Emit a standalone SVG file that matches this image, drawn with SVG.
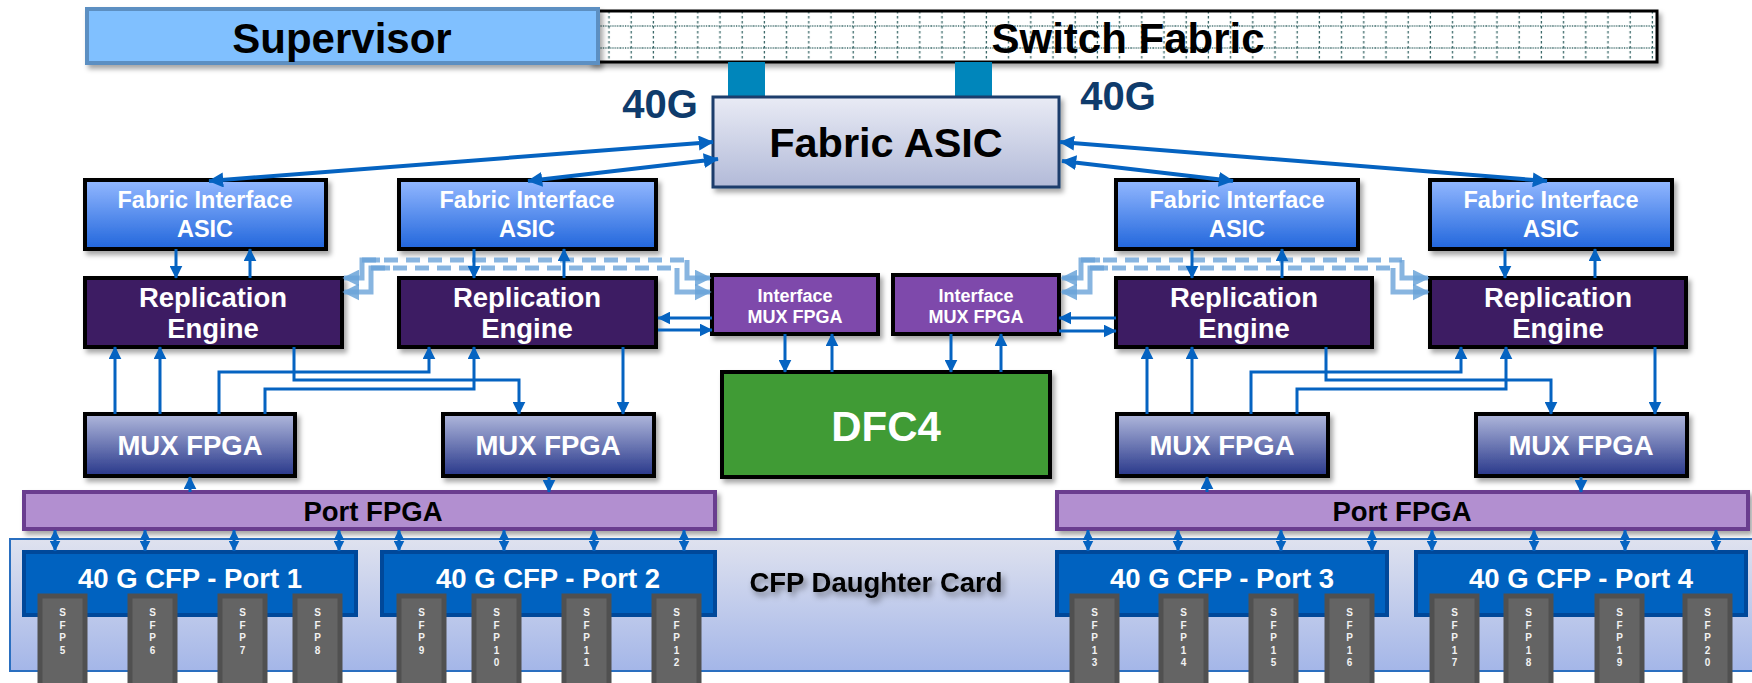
<svg xmlns="http://www.w3.org/2000/svg" width="1752" height="683" viewBox="0 0 1752 683">
<defs>
  <linearGradient id="gFia" x1="0" y1="0" x2="0" y2="1"><stop offset="0" stop-color="#93b8ff"/><stop offset="1" stop-color="#2166dc"/></linearGradient>
  <linearGradient id="gMux" x1="0" y1="0" x2="0" y2="1"><stop offset="0" stop-color="#b0b8dc"/><stop offset="1" stop-color="#28378a"/></linearGradient>
  <linearGradient id="gAsic" x1="0" y1="0" x2="0" y2="1"><stop offset="0" stop-color="#e9ebf5"/><stop offset="1" stop-color="#b2bad8"/></linearGradient>
  <linearGradient id="gCard" x1="0" y1="0" x2="0" y2="1"><stop offset="0" stop-color="#dfe2ef"/><stop offset="1" stop-color="#a4b6e8"/></linearGradient>
  <pattern id="grid" patternUnits="userSpaceOnUse" x="598" y="11" width="22.2" height="60">
    <rect width="22.2" height="60" fill="#fff"/>
    <line x1="11" y1="0" x2="11" y2="60" stroke="#3c6a6a" stroke-width="1.3" stroke-dasharray="2.5 2.5"/>
    <line x1="0" y1="15" x2="22.2" y2="15" stroke="#3c6a6a" stroke-width="1.3" stroke-dasharray="1.2 1.2"/>
    <line x1="0" y1="37" x2="22.2" y2="37" stroke="#3c6a6a" stroke-width="1.3" stroke-dasharray="1.2 1.2"/>
  </pattern>
  <marker id="aL" viewBox="0 0 10 10" refX="9.5" refY="5" markerWidth="15" markerHeight="15" markerUnits="userSpaceOnUse" orient="auto-start-reverse"><path d="M0,0 L10,5 L0,10 z" fill="#0563c1"/></marker>
  <marker id="aM" viewBox="0 0 10 10" refX="9.5" refY="5" markerWidth="13" markerHeight="13" markerUnits="userSpaceOnUse" orient="auto-start-reverse"><path d="M0,0 L10,5 L0,10 z" fill="#0563c1"/></marker>
  <marker id="aS" viewBox="0 0 10 10" refX="9.5" refY="5" markerWidth="11" markerHeight="11" markerUnits="userSpaceOnUse" orient="auto-start-reverse"><path d="M0,0 L10,5 L0,10 z" fill="#0563c1"/></marker>
  <marker id="aD" viewBox="0 0 10 10" refX="9" refY="5" markerWidth="17" markerHeight="17" markerUnits="userSpaceOnUse" orient="auto-start-reverse"><path d="M0,0 L10,5 L0,10 z" fill="#6aa3d8" fill-opacity="0.85"/></marker>
  <filter id="sh" x="-5%" y="-10%" width="115%" height="140%"><feDropShadow dx="3" dy="4" stdDeviation="2.5" flood-color="#000" flood-opacity="0.35"/></filter>
  <filter id="tsh" x="-10%" y="-30%" width="130%" height="180%"><feDropShadow dx="3" dy="4" stdDeviation="3" flood-color="#000" flood-opacity="0.45"/></filter>
</defs>
<style>
  text{font-family:"Liberation Sans",Arial,sans-serif;font-weight:bold;text-anchor:middle}
  .w{fill:#fff}
  .k{fill:#000}
  .bx{stroke:#000;stroke-width:4}
  .fia{fill:url(#gFia)}
  .re{fill:#3d1f63}
  .mux{fill:url(#gMux)}
  .im{fill:#7e4aab}
  .pf{fill:#b28fd0;stroke:#6a3d8f;stroke-width:4}
  .cfp{fill:#0062c0;stroke:#00489a;stroke-width:4}
  .sfp{fill:#646464;stroke:#505050;stroke-width:5}
  .sfpt{font-size:10px;fill:#f2f2f2}
  .t24{font-size:23.5px}
  .t27{font-size:27.5px}
  .cL{fill:none;stroke:#0563c1;stroke-width:4;marker-start:url(#aL);marker-end:url(#aL)}
  .cM{fill:none;stroke:#0563c1;stroke-width:3;marker-end:url(#aM)}
  .cT{fill:none;stroke:#0563c1;stroke-width:3;marker-end:url(#aM)}
  .cS{fill:none;stroke:#0563c1;stroke-width:3;marker-start:url(#aS);marker-end:url(#aS)}
  .dS{fill:none;stroke:#6aa3d8;stroke-opacity:0.8;stroke-width:5}
  .dD{fill:none;stroke:#6aa3d8;stroke-opacity:0.8;stroke-width:5;stroke-dasharray:14 8}
</style>
<rect width="1752" height="683" fill="#fff"/>

<g id="cfp-daughter-card">
  <rect x="10" y="539" width="1760" height="132" fill="url(#gCard)" stroke="#2a6fc0" stroke-width="2"/>
  <text x="876" y="592" class="t27 k" filter="url(#tsh)">CFP Daughter Card</text>
</g>

<g id="switch-fabric">
  <rect x="590" y="11" width="1067" height="51" fill="url(#grid)" stroke="#000" stroke-width="3" filter="url(#sh)"/>
  <text x="1128" y="53" font-size="42" class="k">Switch Fabric</text>
</g>
<g id="supervisor">
  <rect x="87" y="9" width="511" height="54" fill="#80c0ff" stroke="#5b8fc2" stroke-width="4" filter="url(#sh)"/>
  <text x="342" y="53" font-size="42" class="k">Supervisor</text>
</g>

<g id="fabric-links">
  <rect x="728" y="62" width="37" height="35" fill="#0086bb"/>
  <rect x="955" y="62" width="37" height="35" fill="#0086bb"/>
  <text x="660" y="118" font-size="40" fill="#0f3b6b">40G</text>
  <text x="1118" y="110" font-size="40" fill="#0f3b6b">40G</text>
</g>

<g id="fabric-asic">
  <rect x="713" y="97" width="346" height="90" fill="url(#gAsic)" stroke="#1c3d6c" stroke-width="3" filter="url(#sh)"/>
  <text x="886" y="157" font-size="41.5" class="k">Fabric ASIC</text>
</g>

<g id="fia-1"><rect x="85" y="180" width="241" height="69" class="bx fia" filter="url(#sh)"/><text x="205" y="208" class="t24 w">Fabric Interface</text><text x="205" y="237" class="t24 w">ASIC</text></g>
<g id="fia-2"><rect x="399" y="180" width="257" height="69" class="bx fia" filter="url(#sh)"/><text x="527" y="208" class="t24 w">Fabric Interface</text><text x="527" y="237" class="t24 w">ASIC</text></g>
<g id="fia-3"><rect x="1116" y="180" width="242" height="69" class="bx fia" filter="url(#sh)"/><text x="1237" y="208" class="t24 w">Fabric Interface</text><text x="1237" y="237" class="t24 w">ASIC</text></g>
<g id="fia-4"><rect x="1430" y="180" width="242" height="69" class="bx fia" filter="url(#sh)"/><text x="1551" y="208" class="t24 w">Fabric Interface</text><text x="1551" y="237" class="t24 w">ASIC</text></g>

<g id="re-1"><rect x="85" y="278" width="257" height="69" class="bx re" filter="url(#sh)"/><text x="213" y="307" class="t27 w">Replication</text><text x="213" y="338" class="t27 w">Engine</text></g>
<g id="re-2"><rect x="399" y="278" width="257" height="69" class="bx re" filter="url(#sh)"/><text x="527" y="307" class="t27 w">Replication</text><text x="527" y="338" class="t27 w">Engine</text></g>
<g id="re-3"><rect x="1116" y="278" width="256" height="69" class="bx re" filter="url(#sh)"/><text x="1244" y="307" class="t27 w">Replication</text><text x="1244" y="338" class="t27 w">Engine</text></g>
<g id="re-4"><rect x="1430" y="278" width="256" height="69" class="bx re" filter="url(#sh)"/><text x="1558" y="307" class="t27 w">Replication</text><text x="1558" y="338" class="t27 w">Engine</text></g>

<g id="imux-1"><rect x="712" y="275" width="166" height="59" class="bx im" filter="url(#sh)"/><text x="795" y="302" font-size="18" class="w">Interface</text><text x="795" y="323" font-size="18" class="w">MUX FPGA</text></g>
<g id="imux-2"><rect x="893" y="275" width="166" height="59" class="bx im" filter="url(#sh)"/><text x="976" y="302" font-size="18" class="w">Interface</text><text x="976" y="323" font-size="18" class="w">MUX FPGA</text></g>

<g id="dfc4"><rect x="722" y="372" width="328" height="105" class="bx" fill="#3f9b36" filter="url(#sh)"/><text x="886" y="441" font-size="42" class="w">DFC4</text></g>

<g id="mux-1"><rect x="85" y="414" width="210" height="62" class="bx mux" filter="url(#sh)"/><text x="190" y="455" class="t27 w">MUX FPGA</text></g>
<g id="mux-2"><rect x="443" y="414" width="211" height="62" class="bx mux" filter="url(#sh)"/><text x="548" y="455" class="t27 w">MUX FPGA</text></g>
<g id="mux-3"><rect x="1117" y="414" width="211" height="62" class="bx mux" filter="url(#sh)"/><text x="1222" y="455" class="t27 w">MUX FPGA</text></g>
<g id="mux-4"><rect x="1476" y="414" width="211" height="62" class="bx mux" filter="url(#sh)"/><text x="1581" y="455" class="t27 w">MUX FPGA</text></g>

<g id="port-fpga-1"><rect x="24" y="492" width="691" height="37" class="pf" filter="url(#sh)"/><text x="373" y="521" class="t27 k">Port FPGA</text></g>
<g id="port-fpga-2"><rect x="1057" y="492" width="691" height="37" class="pf" filter="url(#sh)"/><text x="1402" y="521" class="t27 k">Port FPGA</text></g>

<g id="cfp-1"><rect x="24" y="552" width="332" height="63" class="cfp"/><text x="190" y="588" class="t27 w">40 G CFP - Port 1</text></g>
<g id="cfp-2"><rect x="382" y="552" width="333" height="63" class="cfp"/><text x="548" y="588" class="t27 w">40 G CFP - Port 2</text></g>
<g id="cfp-3"><rect x="1057" y="552" width="330" height="63" class="cfp"/><text x="1222" y="588" class="t27 w">40 G CFP - Port 3</text></g>
<g id="cfp-4"><rect x="1416" y="552" width="330" height="63" class="cfp"/><text x="1581" y="588" class="t27 w">40 G CFP - Port 4</text></g>

<g id="sfp-modules">
  <g id="sfp-5"><rect x="40" y="596" width="45" height="100" class="sfp"/><text class="sfpt"><tspan x="62.5" y="616">S</tspan><tspan x="62.5" y="628.5">F</tspan><tspan x="62.5" y="641">P</tspan><tspan x="62.5" y="653.5">5</tspan></text></g>
  <g id="sfp-6"><rect x="130" y="596" width="45" height="100" class="sfp"/><text class="sfpt"><tspan x="152.5" y="616">S</tspan><tspan x="152.5" y="628.5">F</tspan><tspan x="152.5" y="641">P</tspan><tspan x="152.5" y="653.5">6</tspan></text></g>
  <g id="sfp-7"><rect x="220" y="596" width="45" height="100" class="sfp"/><text class="sfpt"><tspan x="242.5" y="616">S</tspan><tspan x="242.5" y="628.5">F</tspan><tspan x="242.5" y="641">P</tspan><tspan x="242.5" y="653.5">7</tspan></text></g>
  <g id="sfp-8"><rect x="295" y="596" width="45" height="100" class="sfp"/><text class="sfpt"><tspan x="317.5" y="616">S</tspan><tspan x="317.5" y="628.5">F</tspan><tspan x="317.5" y="641">P</tspan><tspan x="317.5" y="653.5">8</tspan></text></g>
  <g id="sfp-9"><rect x="399" y="596" width="45" height="100" class="sfp"/><text class="sfpt"><tspan x="421.5" y="616">S</tspan><tspan x="421.5" y="628.5">F</tspan><tspan x="421.5" y="641">P</tspan><tspan x="421.5" y="653.5">9</tspan></text></g>
  <g id="sfp-10"><rect x="474" y="596" width="45" height="100" class="sfp"/><text class="sfpt"><tspan x="496.5" y="616">S</tspan><tspan x="496.5" y="628.5">F</tspan><tspan x="496.5" y="641">P</tspan><tspan x="496.5" y="653.5">1</tspan><tspan x="496.5" y="666">0</tspan></text></g>
  <g id="sfp-11"><rect x="564" y="596" width="45" height="100" class="sfp"/><text class="sfpt"><tspan x="586.5" y="616">S</tspan><tspan x="586.5" y="628.5">F</tspan><tspan x="586.5" y="641">P</tspan><tspan x="586.5" y="653.5">1</tspan><tspan x="586.5" y="666">1</tspan></text></g>
  <g id="sfp-12"><rect x="654" y="596" width="45" height="100" class="sfp"/><text class="sfpt"><tspan x="676.5" y="616">S</tspan><tspan x="676.5" y="628.5">F</tspan><tspan x="676.5" y="641">P</tspan><tspan x="676.5" y="653.5">1</tspan><tspan x="676.5" y="666">2</tspan></text></g>
  <g id="sfp-13"><rect x="1072" y="596" width="45" height="100" class="sfp"/><text class="sfpt"><tspan x="1094.5" y="616">S</tspan><tspan x="1094.5" y="628.5">F</tspan><tspan x="1094.5" y="641">P</tspan><tspan x="1094.5" y="653.5">1</tspan><tspan x="1094.5" y="666">3</tspan></text></g>
  <g id="sfp-14"><rect x="1161" y="596" width="45" height="100" class="sfp"/><text class="sfpt"><tspan x="1183.5" y="616">S</tspan><tspan x="1183.5" y="628.5">F</tspan><tspan x="1183.5" y="641">P</tspan><tspan x="1183.5" y="653.5">1</tspan><tspan x="1183.5" y="666">4</tspan></text></g>
  <g id="sfp-15"><rect x="1251" y="596" width="45" height="100" class="sfp"/><text class="sfpt"><tspan x="1273.5" y="616">S</tspan><tspan x="1273.5" y="628.5">F</tspan><tspan x="1273.5" y="641">P</tspan><tspan x="1273.5" y="653.5">1</tspan><tspan x="1273.5" y="666">5</tspan></text></g>
  <g id="sfp-16"><rect x="1327" y="596" width="45" height="100" class="sfp"/><text class="sfpt"><tspan x="1349.5" y="616">S</tspan><tspan x="1349.5" y="628.5">F</tspan><tspan x="1349.5" y="641">P</tspan><tspan x="1349.5" y="653.5">1</tspan><tspan x="1349.5" y="666">6</tspan></text></g>
  <g id="sfp-17"><rect x="1432" y="596" width="45" height="100" class="sfp"/><text class="sfpt"><tspan x="1454.5" y="616">S</tspan><tspan x="1454.5" y="628.5">F</tspan><tspan x="1454.5" y="641">P</tspan><tspan x="1454.5" y="653.5">1</tspan><tspan x="1454.5" y="666">7</tspan></text></g>
  <g id="sfp-18"><rect x="1506" y="596" width="45" height="100" class="sfp"/><text class="sfpt"><tspan x="1528.5" y="616">S</tspan><tspan x="1528.5" y="628.5">F</tspan><tspan x="1528.5" y="641">P</tspan><tspan x="1528.5" y="653.5">1</tspan><tspan x="1528.5" y="666">8</tspan></text></g>
  <g id="sfp-19"><rect x="1597" y="596" width="45" height="100" class="sfp"/><text class="sfpt"><tspan x="1619.5" y="616">S</tspan><tspan x="1619.5" y="628.5">F</tspan><tspan x="1619.5" y="641">P</tspan><tspan x="1619.5" y="653.5">1</tspan><tspan x="1619.5" y="666">9</tspan></text></g>
  <g id="sfp-20"><rect x="1685" y="596" width="45" height="100" class="sfp"/><text class="sfpt"><tspan x="1707.5" y="616">S</tspan><tspan x="1707.5" y="628.5">F</tspan><tspan x="1707.5" y="641">P</tspan><tspan x="1707.5" y="653.5">2</tspan><tspan x="1707.5" y="666">0</tspan></text></g>
</g>

<g id="connectors">
  <path class="dS" d="M344,278 L362,278 L362,260 L380,260" marker-start="url(#aD)"/>
  <path class="dD" d="M362,260 L687,260"/>
  <path class="dS" d="M687,260 L687,278 L710,278" marker-end="url(#aD)"/>
  <path class="dS" d="M344,292 L371,292 L371,268 L390,268" marker-start="url(#aD)"/>
  <path class="dD" d="M371,268 L677,268"/>
  <path class="dS" d="M677,268 L677,292 L710,292" marker-end="url(#aD)"/>

  <path class="dS" d="M1062,278 L1081,278 L1081,260 L1100,260" marker-start="url(#aD)"/>
  <path class="dD" d="M1081,260 L1402,260"/>
  <path class="dS" d="M1402,260 L1402,278 L1428,278" marker-end="url(#aD)"/>
  <path class="dS" d="M1062,292 L1090,292 L1090,268 L1108,268" marker-start="url(#aD)"/>
  <path class="dD" d="M1090,268 L1393,268"/>
  <path class="dS" d="M1393,268 L1393,292 L1428,292" marker-end="url(#aD)"/>

  <path class="cL" d="M713,142 L209,181"/>
  <path class="cL" d="M718,159 L528,181"/>
  <path class="cL" d="M1060,142 L1547,181"/>
  <path class="cL" d="M1062,161 L1233,181"/>

  <path class="cM" d="M176,249 L176,278"/><path class="cM" d="M250,278 L250,249"/>
  <path class="cM" d="M474,249 L474,278"/><path class="cM" d="M564,278 L564,249"/>
  <path class="cM" d="M1192,249 L1192,278"/><path class="cM" d="M1282,278 L1282,249"/>
  <path class="cM" d="M1505,249 L1505,278"/><path class="cM" d="M1595,278 L1595,249"/>

  <path class="cM" d="M712,318 L658,318"/><path class="cM" d="M658,330 L712,330"/>
  <path class="cM" d="M1116,318 L1059,318"/><path class="cM" d="M1059,331 L1116,331"/>

  <path class="cM" d="M785,334 L785,372"/><path class="cM" d="M832,372 L832,334"/>
  <path class="cM" d="M951,334 L951,372"/><path class="cM" d="M1001,372 L1001,334"/>

  <path class="cT" d="M115,414 L115,347"/>
  <path class="cT" d="M160,414 L160,347"/>
  <path class="cT" d="M219,414 L219,372 L429,372 L429,347"/>
  <path class="cT" d="M265,414 L265,389 L474,389 L474,347"/>
  <path class="cT" d="M294,347 L294,380 L519,380 L519,414"/>
  <path class="cT" d="M623,347 L623,414"/>
  <path class="cT" d="M1147,414 L1147,347"/>
  <path class="cT" d="M1192,414 L1192,347"/>
  <path class="cT" d="M1251,414 L1251,372 L1461,372 L1461,347"/>
  <path class="cT" d="M1297,414 L1297,389 L1506,389 L1506,347"/>
  <path class="cT" d="M1326,347 L1326,380 L1551,380 L1551,414"/>
  <path class="cT" d="M1655,347 L1655,414"/>

  <path class="cM" d="M190,492 L190,477"/>
  <path class="cM" d="M549,477 L549,492"/>
  <path class="cM" d="M1207,492 L1207,477"/>
  <path class="cM" d="M1581,477 L1581,492"/>

  <path class="cS" d="M55,530 L55,551"/><path class="cS" d="M145,530 L145,551"/><path class="cS" d="M234,530 L234,551"/><path class="cS" d="M339,530 L339,551"/>
  <path class="cS" d="M399,530 L399,551"/><path class="cS" d="M504,530 L504,551"/><path class="cS" d="M594,530 L594,551"/><path class="cS" d="M684,530 L684,551"/>
  <path class="cS" d="M1088,530 L1088,551"/><path class="cS" d="M1178,530 L1178,551"/><path class="cS" d="M1281,530 L1281,551"/><path class="cS" d="M1372,530 L1372,551"/>
  <path class="cS" d="M1432,530 L1432,551"/><path class="cS" d="M1534,530 L1534,551"/><path class="cS" d="M1625,530 L1625,551"/><path class="cS" d="M1716,530 L1716,551"/>
</g>
</svg>
